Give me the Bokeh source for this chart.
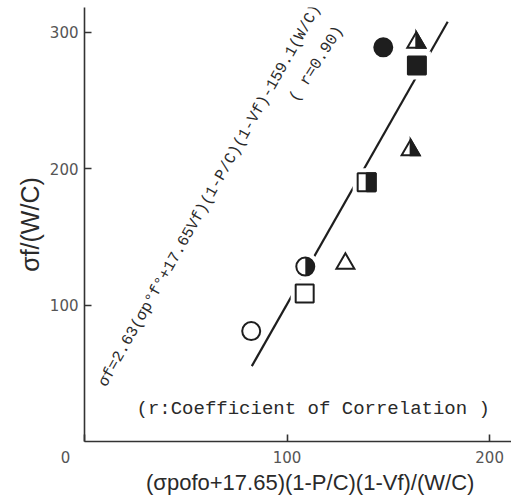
import math
from bokeh.plotting import figure
from bokeh.models import Range1d, FixedTicker, Label, Title
from bokeh.embed import file_html
from bokeh.resources import INLINE

# ---------------- data ----------------
open_circle_x = [82.3];   open_circle_y = [81.0]
half_circle_x = [109.0];  half_circle_y = [128.3]
filled_circle_x = [147.5]; filled_circle_y = [289.1]
open_square_x = [108.7];  open_square_y = [108.5]
half_square_x = [139.3];  half_square_y = [190.2]
filled_square_x = [164.1]; filled_square_y = [275.7]
open_triangle_x = [128.8]; open_triangle_y = [130.5]
half_triangle_x = [163.8, 161.0]; half_triangle_y = [292.6, 213.7]

fit_x = [82.6, 179.3]
fit_y = [55.3, 307.8]

x_ticks = [0, 100, 200]
y_ticks = [100, 200, 300]

NB = "\u00a0"
equation = "σf=2.63(σp°f°+17.65Vf)(1-P/C)(1-Vf)-159.1(W/C)"
corr_text = "( r=0.90)"
note_text = "(r:Coefficient of Correlation )"
x_title = "(σpofo+17.65)(1-P/C)(1-Vf)/(W/C)"
y_title = "σf/(W/C)"

# ---------------- layout ----------------
W, H = 511, 497
ML, MR, MT, MB = 84, 0, 7, 56
X_END, Y_END = 210.8, 318.3
FW, FH = W - ML - MR, H - MT - MB
sx = FW / X_END
sy = FH / Y_END

INK = "#1e1e1e"
TXT = "#2a2a2a"
MS = 18
LW = 2

p = figure(width=W, height=H, output_backend="svg", toolbar_location=None,
           x_range=Range1d(0, X_END), y_range=Range1d(0, Y_END),
           min_border_left=ML, min_border_right=MR, min_border_top=MT,
           min_border_bottom=MB)
p.outline_line_color = None
p.grid.visible = False
p.background_fill_color = "white"
p.border_fill_color = "white"

for ax in (p.xaxis[0], p.yaxis[0]):
    ax.axis_line_color = "#333333"
    ax.axis_line_width = 1.6
    ax.major_tick_line_color = "#333333"
    ax.major_tick_line_width = 1.6
    ax.major_tick_in = 7
    ax.major_tick_out = 0
    ax.minor_tick_line_color = None
    ax.major_label_text_font = "DejaVu Sans"
    ax.major_label_text_font_size = "15px"
    ax.major_label_text_color = "#555555"
    ax.axis_label_text_font = "Liberation Sans"
    ax.axis_label_text_font_style = "normal"
    ax.axis_label_text_color = TXT

p.xaxis[0].ticker = FixedTicker(ticks=x_ticks)
p.xaxis[0].major_label_overrides = {0: "0" + NB * 8}
p.yaxis[0].ticker = FixedTicker(ticks=y_ticks)
p.xaxis[0].major_label_standoff = 7
p.yaxis[0].major_label_standoff = 6

p.xaxis[0].axis_label = NB * 4 + x_title
p.xaxis[0].axis_label_text_font_size = "22px"
p.xaxis[0].axis_label_standoff = 0

# y title as a side title so that it can be shifted along the axis
p.add_layout(Title(text=y_title, align="center", offset=-21, standoff=6,
                   text_font="Liberation Sans", text_font_size="25px",
                   text_font_style="normal", text_color=TXT), "left")

# regression line
p.line(fit_x, fit_y, line_color=INK, line_width=2.2)

# white halos that break the line around markers
all_sq_x = open_square_x + half_square_x + filled_square_x
all_sq_y = open_square_y + half_square_y + filled_square_y
all_ci_x = open_circle_x + half_circle_x + filled_circle_x
all_ci_y = open_circle_y + half_circle_y + filled_circle_y
p.scatter(all_sq_x, all_sq_y, marker="square", size=MS + 10, fill_color="white", line_color=None)
p.scatter(all_ci_x, all_ci_y, marker="circle", size=MS + 10, fill_color="white", line_color=None)

# circles
p.scatter(open_circle_x + half_circle_x, open_circle_y + half_circle_y, marker="circle",
          size=MS, fill_color="white", line_color=INK, line_width=LW)
p.wedge(half_circle_x, half_circle_y, radius=MS / 2, radius_units="screen",
        start_angle=-math.pi / 2, end_angle=math.pi / 2, fill_color=INK, line_color=None)
p.scatter(filled_circle_x, filled_circle_y, marker="circle", size=MS,
          fill_color=INK, line_color=INK, line_width=LW)

# squares
p.scatter(open_square_x + half_square_x, open_square_y + half_square_y, marker="square",
          size=MS, fill_color="white", line_color=INK, line_width=LW)
p.rect([x + (MS / 4) / sx for x in half_square_x], half_square_y,
       width=MS / 2, height=MS, width_units="screen", height_units="screen",
       fill_color=INK, line_color=INK, line_width=LW)
p.scatter(filled_square_x, filled_square_y, marker="square", size=MS,
          fill_color=INK, line_color=INK, line_width=LW)

# triangles (drawn as patches so the half fill lines up)
r = MS / 2
h = r * math.sqrt(3)
a = h / 3

def tri(x, y):
    return ([x - r / sx, x + r / sx, x],
            [y - a / sy, y - a / sy, y + (h - a) / sy])

def half_tri(x, y):
    return ([x, x + r / sx, x],
            [y - a / sy, y - a / sy, y + (h - a) / sy])

tx, ty = zip(*[tri(x, y) for x, y in zip(open_triangle_x + half_triangle_x,
                                          open_triangle_y + half_triangle_y)])
p.patches(list(tx), list(ty), fill_color="white", line_color=INK, line_width=LW, line_join="miter")
hx, hy = zip(*[half_tri(x, y) for x, y in zip(half_triangle_x, half_triangle_y)])
p.patches(list(hx), list(hy), fill_color=INK, line_color=INK, line_width=LW, line_join="miter")

# ---------------- texts ----------------
p.add_layout(Label(x=0, y=0, x_offset=18, y_offset=56, text=equation,
                   angle=math.radians(60.5),
                   text_font="Liberation Mono", text_font_size="15.8px", text_color=TXT,
                   text_align="left", text_baseline="alphabetic"))
p.add_layout(Label(x=0, y=0, x_offset=209, y_offset=341, text=corr_text,
                   angle=math.radians(57.5),
                   text_font="Liberation Mono", text_font_size="16px", text_color=TXT,
                   text_align="left", text_baseline="alphabetic"))
p.add_layout(Label(x=0, y=0, x_offset=52, y_offset=33, text=note_text,
                   text_font="Liberation Mono", text_font_size="19px", text_color=TXT,
                   text_align="left", text_baseline="middle"))

open("out.html", "w").write(file_html(p, INLINE))
